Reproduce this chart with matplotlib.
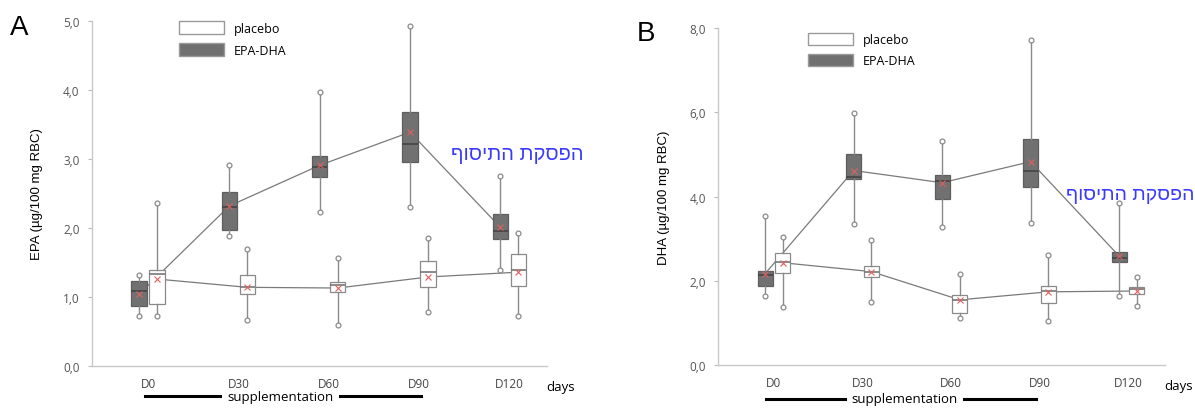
import matplotlib
matplotlib.use("Agg")
import matplotlib.pyplot as plt
from matplotlib.patches import Patch

# categories
days = ["D0", "D30", "D60", "D90", "D120"]

# panel A : EPA (ug/100 mg RBC)
epa_trt_q1 = [0.87, 1.97, 2.74, 2.96, 1.84]
epa_trt_med = [1.08, 2.30, 2.88, 3.22, 1.96]
epa_trt_q3 = [1.23, 2.52, 3.04, 3.68, 2.20]
epa_trt_lo = [0.72, 1.88, 2.23, 2.30, 1.39]
epa_trt_hi = [1.32, 2.91, 3.97, 4.93, 2.75]
epa_trt_mean = [1.04, 2.32, 2.91, 3.39, 2.01]

epa_plc_q1 = [0.90, 1.04, 1.07, 1.14, 1.16]
epa_plc_med = [1.33, 1.15, 1.17, 1.36, 1.39]
epa_plc_q3 = [1.39, 1.32, 1.22, 1.52, 1.62]
epa_plc_lo = [0.72, 0.67, 0.59, 0.78, 0.72]
epa_plc_hi = [2.36, 1.70, 1.56, 1.85, 1.93]
epa_plc_mean = [1.26, 1.14, 1.13, 1.29, 1.36]

# panel B : DHA (ug/100 mg RBC)
dha_trt_q1 = [1.88, 4.43, 3.95, 4.24, 2.45]
dha_trt_med = [2.15, 4.47, 4.38, 4.60, 2.55]
dha_trt_q3 = [2.24, 5.00, 4.52, 5.36, 2.69]
dha_trt_lo = [1.65, 3.36, 3.29, 3.38, 1.65]
dha_trt_hi = [3.55, 5.98, 5.33, 7.71, 3.86]
dha_trt_mean = [2.17, 4.62, 4.33, 4.83, 2.59]

dha_plc_q1 = [2.19, 2.09, 1.24, 1.48, 1.69]
dha_plc_med = [2.45, 2.20, 1.55, 1.75, 1.80]
dha_plc_q3 = [2.66, 2.36, 1.67, 1.88, 1.86]
dha_plc_lo = [1.38, 1.51, 1.12, 1.05, 1.40]
dha_plc_hi = [3.05, 2.98, 2.17, 2.62, 2.10]
dha_plc_mean = [2.43, 2.22, 1.55, 1.74, 1.76]

hebrew = "הפסקת התיסוף"  # "end of supplementation"

plt.rcParams['font.family'] = ['Open Sans', 'DejaVu Sans']

fig = plt.figure(figsize=(11.95, 4.1), dpi=100)
axA = fig.add_axes([0.077, 0.105, 0.381, 0.841])
axB = fig.add_axes([0.601, 0.107, 0.374, 0.822])


def stats(q1, med, q3, lo, hi, mean):
    return [dict(q1=a, med=b, q3=c, whislo=d, whishi=e, mean=f, fliers=[])
            for a, b, c, d, e, f in zip(q1, med, q3, lo, hi, mean)]


def draw_group(ax, st, pos, face, edge, medcol):
    ax.bxp(st, positions=pos, widths=0.17, patch_artist=True, showcaps=False,
           showmeans=True, manage_ticks=False,
           boxprops=dict(facecolor=face, edgecolor=edge, linewidth=0.9),
           whiskerprops=dict(color="#8a8a8a", linewidth=1.0),
           medianprops=dict(color=medcol, linewidth=1.2),
           meanprops=dict(marker="x", markeredgecolor="#e06060",
                          markersize=5, markeredgewidth=0.8))
    lo = [s["whislo"] for s in st]
    hi = [s["whishi"] for s in st]
    ax.plot(pos, lo, "o", ms=3.5, mfc="white", mec="#8a8a8a", mew=0.9, ls="none")
    ax.plot(pos, hi, "o", ms=3.5, mfc="white", mec="#8a8a8a", mew=0.9, ls="none")
    ax.plot(pos, [s["mean"] for s in st], color="#7a7a7a", lw=0.9, zorder=1)


def setup(ax, ymax, yticks, ylabel, xlim):
    ax.set_xlim(*xlim)
    ax.set_ylim(0, ymax)
    ax.set_yticks(yticks)
    ax.set_yticklabels([("%.1f" % t).replace(".", ",") for t in yticks],
                       fontsize=8.5, color="#555555")
    ax.set_xticks(range(len(days)))
    ax.set_xticklabels(days, fontsize=8.5, color="#444444")
    ax.tick_params(axis="x", length=0, pad=8)
    ax.tick_params(axis="y", length=3, color="#bbbbbb", pad=6)
    for s in ["top", "right"]:
        ax.spines[s].set_visible(False)
    for s in ["left", "bottom"]:
        ax.spines[s].set_color("#c8c8c8")
        ax.spines[s].set_linewidth(1.0)
    ax.set_ylabel(ylabel, fontsize=9.5, family=["Liberation Sans", "DejaVu Sans"],
                  labelpad=14)
    ax.text(1.03, -0.04, "days", transform=ax.transAxes, fontsize=9.5,
            va="top", ha="center")
    handles = [Patch(facecolor="white", edgecolor="#9a9a9a", label="placebo"),
               Patch(facecolor="#707070", edgecolor="#9a9a9a", label="EPA-DHA")]
    return handles


x = list(range(len(days)))
off = 0.1
px_trt = [i - off for i in x]
px_plc = [i + off for i in x]

# matplotlib lays text out left to right, so reverse the Hebrew for display
heb_disp = hebrew[::-1]

# panel A
hA = setup(axA, 5.0, [0, 1, 2, 3, 4, 5], "EPA (µg/100 mg RBC)", (-0.62, 4.42))
draw_group(axA, stats(epa_trt_q1, epa_trt_med, epa_trt_q3, epa_trt_lo, epa_trt_hi, epa_trt_mean),
           px_trt, "#717171", "#5e5e5e", "#444444")
draw_group(axA, stats(epa_plc_q1, epa_plc_med, epa_plc_q3, epa_plc_lo, epa_plc_hi, epa_plc_mean),
           px_plc, "white", "#8a8a8a", "#777777")
axA.legend(handles=hA, loc="upper left", bbox_to_anchor=(0.19, 1.0), frameon=False,
           handlelength=3.6, handleheight=1.2, fontsize=9, handletextpad=0.8,
           labelspacing=0.65, borderpad=0, borderaxespad=0)
axA.text(3.35, 3.08, heb_disp, fontsize=14.5, color="#3a3aff",
         family=["Liberation Sans", "DejaVu Sans"], ha="left", va="center")

# panel B
hB = setup(axB, 8.0, [0, 2, 4, 6, 8], "DHA (µg/100 mg RBC)", (-0.63, 4.42))
draw_group(axB, stats(dha_trt_q1, dha_trt_med, dha_trt_q3, dha_trt_lo, dha_trt_hi, dha_trt_mean),
           px_trt, "#717171", "#5e5e5e", "#444444")
draw_group(axB, stats(dha_plc_q1, dha_plc_med, dha_plc_q3, dha_plc_lo, dha_plc_hi, dha_plc_mean),
           px_plc, "white", "#8a8a8a", "#777777")
axB.legend(handles=hB, loc="upper left", bbox_to_anchor=(0.2, 0.985), frameon=False,
           handlelength=3.6, handleheight=1.1, fontsize=9, handletextpad=0.8,
           labelspacing=0.6, borderpad=0, borderaxespad=0)
axB.text(3.3, 4.05, heb_disp, fontsize=14, color="#3a3aff",
         family=["Liberation Sans", "DejaVu Sans"], ha="left", va="center")

# supplementation bars under the axes
for ax, segs, ytxt in [(axA, [(-0.03, 0.8), (2.13, 3.02)], -0.088),
                       (axB, [(-0.09, 0.8), (2.15, 2.96)], -0.1)]:
    trans = ax.get_xaxis_transform()
    ax.text(1.47, ytxt, "supplementation", transform=trans, ha="center",
            va="center", fontsize=9.5)
    for a, b in segs:
        ax.plot([a, b], [ytxt, ytxt], transform=trans,
                color="black", lw=2.2, clip_on=False)

fig.text(0.008, 0.915, "A", fontsize=20, family=["Liberation Sans", "DejaVu Sans"])
fig.text(0.533, 0.9, "B", fontsize=20, family=["Liberation Sans", "DejaVu Sans"])

fig.savefig("out.png", dpi=100)
